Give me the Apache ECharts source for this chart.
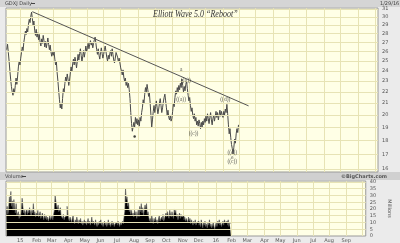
<!DOCTYPE html>
<html><head><meta charset="utf-8">
<script src="https://cdn.jsdelivr.net/npm/echarts@6/dist/echarts.min.js"></script>
<style>html,body{margin:0;padding:0;background:#ebebeb}#c{width:400px;height:243px}</style>
</head><body><div id="c"></div>
<script>
// ---- data ----
const axisStart = '2014-12-05';
const axisEnd = '2016-10-07';
const firstDataDate = '2014-12-08';
const lastLabelMonth = '2016-09';
const monthNames = ['15','Feb','Mar','Apr','May','Jun','Jul','Aug','Sep','Oct','Nov','Dec'];
const priceTicks = [16,17,18,19,20,21,22,23,24,25,26,27,28,29,30,31];
const volumeTicks = [0,5,10,15,20,25,30,35,40];
// daily closing price (USD), Dec 8 2014 .. Jan 29 2016
const price = [
 26.2,26.8,25.9,25.0,24.0,23.2,22.5,22.0,21.7,22.3,21.9,22.6,23.3,22.7,23.5,24.4,25.0,24.6,
 25.3,25.9,26.5,26.1,27.0,27.6,28.3,27.9,28.6,28.2,29.1,29.7,29.3,30.1,30.6,29.8,29.0,29.5,28.4,27.8,28.5,27.6,
 28.1,27.3,27.9,27.0,26.6,27.4,26.9,27.8,27.2,26.5,27.1,26.4,26.9,27.5,26.8,26.2,26.7,26.0,25.5,25.9,
 25.6,26.0,25.2,24.6,24.9,23.8,23.0,22.1,21.3,20.6,21.0,20.5,21.4,22.3,22.0,22.8,23.4,23.0,23.7,23.2,22.6,23.1,
 23.8,24.4,23.9,24.7,25.2,24.6,25.4,24.9,24.3,25.0,25.7,25.1,25.8,26.3,25.6,24.9,25.5,26.1,25.4,25.9,26.6,26.0,
 26.4,26.9,26.3,26.8,27.2,26.7,27.0,26.4,26.9,27.3,27.6,26.9,26.2,25.7,26.3,25.6,25.2,25.9,26.4,25.8,25.3,
 25.7,26.2,26.6,26.0,25.4,25.0,25.6,25.2,25.8,26.1,25.5,26.3,25.7,25.1,24.8,25.3,25.9,26.0,25.4,24.9,25.3,24.8,
 24.3,24.0,23.6,24.1,23.4,23.0,23.3,22.6,22.9,22.4,22.8,22.2,21.4,20.2,19.3,18.7,18.6,19.4,19.0,19.8,19.3,19.7,
 19.2,19.6,19.1,19.8,19.5,20.2,20.6,21.3,21.0,21.8,22.4,22.0,22.7,22.2,21.6,21.9,21.0,20.0,19.0,19.6,20.3,
 20.8,20.2,20.7,21.2,20.6,20.1,20.5,21.0,21.4,20.8,20.2,20.6,21.1,21.5,21.8,21.2,20.6,20.0,20.4,19.8,19.6,20.0,19.5,
 19.7,20.3,21.0,20.7,21.5,22.1,21.8,22.4,22.0,22.6,22.2,22.8,22.4,23.2,22.6,22.0,22.5,22.1,22.7,23.0,22.3,21.7,
 21.2,21.5,20.8,20.3,20.6,20.0,19.7,20.1,19.5,19.8,19.2,19.5,19.1,19.6,19.3,18.9,19.4,19.0,19.5,19.2,19.7,
 19.4,19.9,19.5,20.1,19.7,19.3,19.8,20.2,19.6,19.2,19.7,20.0,19.5,19.9,20.3,19.8,20.2,19.6,20.0,20.4,19.9,20.3,20.0,
 19.8,20.3,20.0,20.5,20.2,20.9,20.1,19.2,18.5,18.9,18.2,17.7,17.4,17.0,17.5,18.1,17.8,18.5,18.9,18.6,19.2
];
// daily volume (millions of shares), same days
const volume = [
 18,22,16,20,29,24,33,22,26,19,27,21,17,24,15,14,18,13,
 16,14,19,28,22,17,19,15,18,20,16,19,17,21,18,15,19,17,24,16,18,14,
 17,15,19,14,16,18,13,15,17,14,12,16,13,15,12,14,11,13,15,12,
 13,15,12,16,19,30,26,22,20,23,18,17,21,15,14,13,16,12,14,13,15,22,
 16,13,11,14,12,10,13,15,11,9,12,10,14,11,9,12,10,13,9,11,8,10,
 12,9,11,8,10,13,9,11,8,10,14,9,11,10,8,12,9,7,10,8,11,
 9,12,8,10,7,9,11,8,10,7,9,12,8,10,7,9,11,8,10,7,9,8,
 10,8,11,9,7,10,8,9,11,9,14,18,35,27,29,22,25,18,20,16,19,15,
 17,14,19,15,18,13,16,20,14,22,18,24,17,21,15,19,23,20,24,16,18,
 14,11,13,10,15,12,9,13,11,14,10,12,9,13,15,11,10,14,12,16,11,13,15,
 17,14,18,15,13,19,16,14,18,15,13,20,17,19,14,16,12,15,17,13,16,14,
 13,15,12,14,11,13,12,10,14,11,13,9,12,10,8,11,9,12,8,10,9,
 11,8,10,7,12,9,6,10,8,11,7,9,6,10,8,12,7,9,6,8,10,7,5,
 8,10,7,11,9,12,8,10,7,9,11,8,12,10,9,11,8,12,7,10,9
];
const trendStart = ['2015-01-22', 30.66];
const trendEnd = ['2016-02-17', 20.77];
const waveText = ['a','((b))','((a))','((c))','((d))','((e))','e','((c))'];
const waveDate = ['2015-10-19','2015-10-27','2015-10-19','2015-11-10','2016-01-06','2016-01-19','2016-01-19','2016-01-19'];
const waveY = [24.1,23.1,21.3,18.5,21.35,17.1,16.8,16.5];
const dotDate = ['2015-07-27'];
const dotY = [18.3];

// ---- build ----
function weekdays(s, e) {
  const out = []; const d = new Date(s + 'T00:00:00Z'); const end = new Date(e + 'T00:00:00Z');
  while (d <= end) { const w = d.getUTCDay(); if (w !== 0 && w !== 6) out.push(d.toISOString().slice(0, 10)); d.setUTCDate(d.getUTCDate() + 1); }
  return out;
}
const cats = weekdays(axisStart, axisEnd);
const pad = cats.indexOf(firstDataDate);
const priceData = Array(pad).fill(null).concat(price);
const volData = Array(pad).fill(null).concat(volume);
const isMonthStart = (i) => i > 0 && cats[i].slice(0, 7) !== cats[i - 1].slice(0, 7);
const showLabel = (i) => isMonthStart(i) && cats[i].slice(0, 7) <= lastLabelMonth;
const monthLabel = (v) => { const m = +v.slice(5, 7); return m === 1 ? v.slice(2, 4) : monthNames[m - 1]; };

const gridFill = '#ffffe6', gridLine = '#e7e3b5', border = '#9a9a9a';
const small = { fontFamily: 'DejaVu Sans', fontSize: 5, color: '#555' };

const chart = echarts.init(document.getElementById('c'), null, { renderer: 'canvas' });
chart.setOption({
  animation: false,
  backgroundColor: '#ebebeb',
  graphic: [
    { type: 'rect', shape: { x: 0, y: 0, width: 400, height: 7 }, style: { fill: '#d5d5d5' }, z: -1 },
    { type: 'rect', shape: { x: 0, y: 172, width: 400, height: 8 }, style: { fill: '#d0d0d0' }, z: -1 },
    { type: 'text', x: 5, y: 1.5, style: Object.assign({ text: 'GDXJ Daily' }, small, { fill: '#444' }) },
    { type: 'rect', shape: { x: 31, y: 3, width: 4, height: 1 }, style: { fill: '#444' } },
    { type: 'text', x: 380, y: 1.5, style: Object.assign({ text: '1/29/16' }, small, { fill: '#444' }) },
    { type: 'text', x: 5, y: 174, style: Object.assign({ text: 'Volume' }, small, { fill: '#444' }) },
    { type: 'rect', shape: { x: 22, y: 176, width: 4, height: 1 }, style: { fill: '#444' } },
    { type: 'text', x: 341, y: 174, style: Object.assign({ text: '\u00a9BigCharts.com' }, small, { fill: '#555', fontWeight: 'bold' }) },
    { type: 'text', x: 153, y: 9, scaleX: 0.8, z: 10,
      style: { text: 'Elliott Wave 5.0 \u201cReboot\u201d', fontFamily: 'Liberation Serif', fontStyle: 'italic', fontSize: 10, fill: '#333' } }
  ],
  grid: [
    { left: 6, top: 8, right: 22, height: 164, show: true, backgroundColor: gridFill, borderColor: border, borderWidth: 1 },
    { left: 6, top: 181, right: 22, height: 55, show: true, backgroundColor: gridFill, borderColor: border, borderWidth: 1 }
  ],
  xAxis: [
    { type: 'category', gridIndex: 0, data: cats, boundaryGap: false, axisLine: { show: false }, axisTick: { show: false },
      axisLabel: { show: false }, splitLine: { show: true, interval: (i) => isMonthStart(i), lineStyle: { color: gridLine, width: 1 } } },
    { type: 'category', gridIndex: 1, data: cats, boundaryGap: false, axisLine: { show: false }, axisTick: { show: false },
      axisLabel: Object.assign({ show: true, interval: (i) => showLabel(i), formatter: monthLabel, margin: 2 }, small),
      splitLine: { show: true, interval: (i) => isMonthStart(i), lineStyle: { color: gridLine, width: 1 } } }
  ],
  yAxis: [
    { type: 'log', gridIndex: 0, position: 'right', min: 15.8, max: 31.13, axisLine: { show: false }, axisTick: { show: false },
      axisLabel: Object.assign({ customValues: priceTicks, margin: 4 }, small), splitLine: { show: false } },
    { type: 'value', gridIndex: 1, position: 'right', min: 0, max: 40.74, axisLine: { show: false }, axisTick: { show: false },
      axisLabel: Object.assign({ customValues: volumeTicks, margin: 4 }, small), splitLine: { show: false },
      name: 'Millions', nameLocation: 'middle', nameRotate: -90, nameGap: 15, nameTextStyle: small }
  ],
  series: [
    { type: 'line', xAxisIndex: 0, yAxisIndex: 0, data: [], silent: true,
      markLine: { silent: true, symbol: 'none', label: { show: false }, lineStyle: { color: gridLine, type: 'solid', width: 1 },
        data: priceTicks.map(v => ({ yAxis: v })) } },
    { type: 'line', xAxisIndex: 1, yAxisIndex: 1, data: [], silent: true,
      markLine: { silent: true, symbol: 'none', label: { show: false }, lineStyle: { color: gridLine, type: 'solid', width: 1 },
        data: volumeTicks.slice(1).map(v => ({ yAxis: v })) } },
    { type: 'line', xAxisIndex: 0, yAxisIndex: 0, data: priceData, showSymbol: false, connectNulls: false,
      lineStyle: { color: '#4a4a4a', width: 1 }, z: 3,
      markLine: { silent: true, symbol: 'none', label: { show: false }, lineStyle: { color: '#555', type: 'solid', width: 1 },
        data: [[{ coord: trendStart }, { coord: trendEnd }]] } },
    { type: 'scatter', xAxisIndex: 0, yAxisIndex: 0, symbolSize: 0.1, z: 5,
      data: waveText.map((t, k) => ({ value: [waveDate[k], waveY[k]], name: t })),
      label: { show: true, position: 'inside', formatter: (p) => p.name, fontFamily: 'Liberation Serif', fontSize: 5.5, color: '#333' } },
    { type: 'scatter', xAxisIndex: 0, yAxisIndex: 0, symbol: 'circle', symbolSize: 2.5, itemStyle: { color: '#111' }, z: 5,
      data: dotDate.map((d, k) => [d, dotY[k]]) },
    { type: 'line', xAxisIndex: 1, yAxisIndex: 1, data: volData, step: 'middle', showSymbol: false, connectNulls: false,
      lineStyle: { color: '#555', width: 0.6 }, areaStyle: { color: '#000', opacity: 1 }, z: 3 }
  ]
});
</script></body></html>
